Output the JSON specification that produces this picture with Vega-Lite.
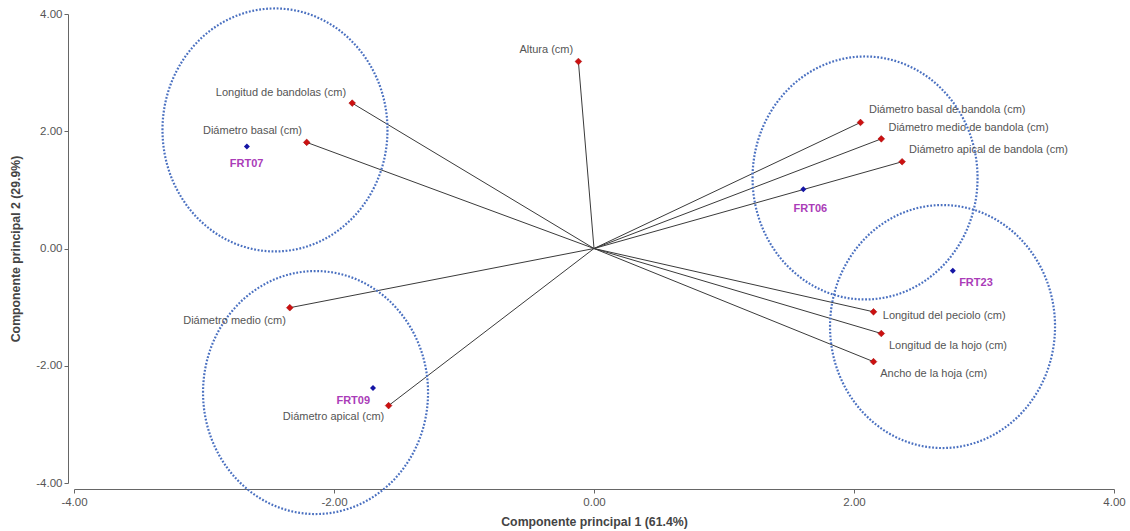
{
  "$schema": "https://vega.github.io/schema/vega-lite/v6.json",
  "width": 1040,
  "height": 469,
  "autosize": {"type": "none"},
  "padding": {"left": 74, "top": 14, "right": 16, "bottom": 48},
  "background": "white",
  "datasets": {
    "vars": [
      {"name": "Altura (cm)", "x": -0.12, "y": 3.19, "lx": -0.367, "ly": 3.38},
      {"name": "Longitud de bandolas (cm)", "x": -1.86, "y": 2.48, "lx": -2.408, "ly": 2.66},
      {"name": "Diámetro basal (cm)", "x": -2.21, "y": 1.81, "lx": -2.627, "ly": 2.0},
      {"name": "Diámetro medio (cm)", "x": -2.34, "y": -1.01, "lx": -2.765, "ly": -1.23},
      {"name": "Diámetro apical (cm)", "x": -1.58, "y": -2.68, "lx": -2.004, "ly": -2.88},
      {"name": "Diámetro basal de bandola (cm)", "x": 2.05, "y": 2.15, "lx": 2.717, "ly": 2.355},
      {"name": "Diámetro medio de bandola (cm)", "x": 2.21, "y": 1.87, "lx": 2.881, "ly": 2.053},
      {"name": "Diámetro apical de bandola (cm)", "x": 2.37, "y": 1.48, "lx": 3.035, "ly": 1.672},
      {"name": "Longitud del peciolo (cm)", "x": 2.15, "y": -1.08, "lx": 2.694, "ly": -1.148},
      {"name": "Longitud de la hojo (cm)", "x": 2.21, "y": -1.45, "lx": 2.723, "ly": -1.66},
      {"name": "Ancho de la hoja (cm)", "x": 2.15, "y": -1.93, "lx": 2.613, "ly": -2.145}
    ],
    "obs": [
      {"name": "FRT07", "x": -2.67, "y": 1.74, "lx": -2.672, "ly": 1.445},
      {"name": "FRT09", "x": -1.70, "y": -2.38, "lx": -1.852, "ly": -2.594},
      {"name": "FRT06", "x": 1.61, "y": 1.01, "lx": 1.664, "ly": 0.677},
      {"name": "FRT23", "x": 2.76, "y": -0.38, "lx": 2.938, "ly": -0.585}
    ],
    "circles": [
      {"group": "FRT07", "cx": -2.454, "cy": 2.022},
      {"group": "FRT09", "cx": -2.142, "cy": -2.457},
      {"group": "FRT06", "cx": 2.085, "cy": 1.203},
      {"group": "FRT23", "cx": 2.681, "cy": -1.331}
    ]
  },
  "config": {
    "view": {"stroke": null},
    "axis": {
      "grid": false,
      "domainColor": "#666666",
      "tickColor": "#666666",
      "tickSize": 4,
      "offset": 6,
      "labelColor": "#555555",
      "labelFont": "Liberation Sans",
      "labelFontSize": 11.5,
      "labelFlush": false,
      "labelOverlap": false,
      "titleFont": "Liberation Sans",
      "titleFontSize": 12.3,
      "titleFontWeight": "bold",
      "titleColor": "#444444"
    }
  },
  "encoding": {
    "x": {"field": "x", "type": "quantitative", "scale": {"domain": [-4, 4], "nice": false, "zero": false},
          "axis": {"title": "Componente principal 1 (61.4%)", "values": [-4, -2, 0, 2, 4], "labelExpr": "replace(format(datum.value, '.2f'), '\u2212', '-')", "labelPadding": 3, "titlePadding": 8}},
    "y": {"field": "y", "type": "quantitative", "scale": {"domain": [-4, 4], "nice": false, "zero": false},
          "axis": {"title": "Componente principal 2 (29.9%)", "values": [-4, -2, 0, 2, 4], "labelExpr": "replace(format(datum.value, '.2f'), '\u2212', '-')", "labelPadding": 2, "titlePadding": 13}}
  },
  "layer": [
    {
      "data": {"name": "vars"},
      "mark": {"type": "rule", "color": "#3a3a3a", "strokeWidth": 1},
      "encoding": {
        "x2": {"datum": 0},
        "y2": {"datum": 0}
      }
    },
    {
      "data": {"values": [{}]},
      "mark": {"type": "rule", "color": "#a0a0a0", "strokeWidth": 1},
      "encoding": {
        "x": null,
        "y": {"datum": 0, "type": "quantitative"}
      }
    },
    {
      "data": {"values": [{}]},
      "mark": {"type": "rule", "color": "#a0a0a0", "strokeWidth": 1},
      "encoding": {
        "x": {"datum": 0, "type": "quantitative"},
        "y": null
      }
    },
    {
      "data": {"name": "circles"},
      "mark": {
        "type": "point",
        "shape": "M-1,0A1,1.08,0,1,1,1,0A1,1.08,0,1,1,-1,0Z",
        "size": 50625,
        "filled": false,
        "stroke": "#4a70c0",
        "strokeWidth": 2.2,
        "strokeDash": [1.8, 1.7],
        "opacity": 1
      },
      "encoding": {
        "x": {"field": "cx", "type": "quantitative"},
        "y": {"field": "cy", "type": "quantitative"}
      }
    },
    {
      "data": {"name": "vars"},
      "mark": {"type": "point", "shape": "diamond", "filled": true, "size": 45, "color": "#cc1010", "stroke": "#a00000", "strokeWidth": 0.5, "opacity": 1}
    },
    {
      "data": {"name": "obs"},
      "mark": {"type": "point", "shape": "diamond", "filled": true, "size": 36, "color": "#1515a5", "opacity": 1}
    },
    {
      "data": {"name": "vars"},
      "mark": {"type": "text", "font": "Liberation Sans", "fontSize": 11, "color": "#555555", "align": "center", "baseline": "middle"},
      "encoding": {
        "x": {"field": "lx", "type": "quantitative"},
        "y": {"field": "ly", "type": "quantitative"},
        "text": {"field": "name"}
      }
    },
    {
      "data": {"name": "obs"},
      "mark": {"type": "text", "font": "Liberation Sans", "fontSize": 11, "fontWeight": "bold", "color": "#aa3cb8", "align": "center", "baseline": "middle"},
      "encoding": {
        "x": {"field": "lx", "type": "quantitative"},
        "y": {"field": "ly", "type": "quantitative"},
        "text": {"field": "name"}
      }
    }
  ]
}
